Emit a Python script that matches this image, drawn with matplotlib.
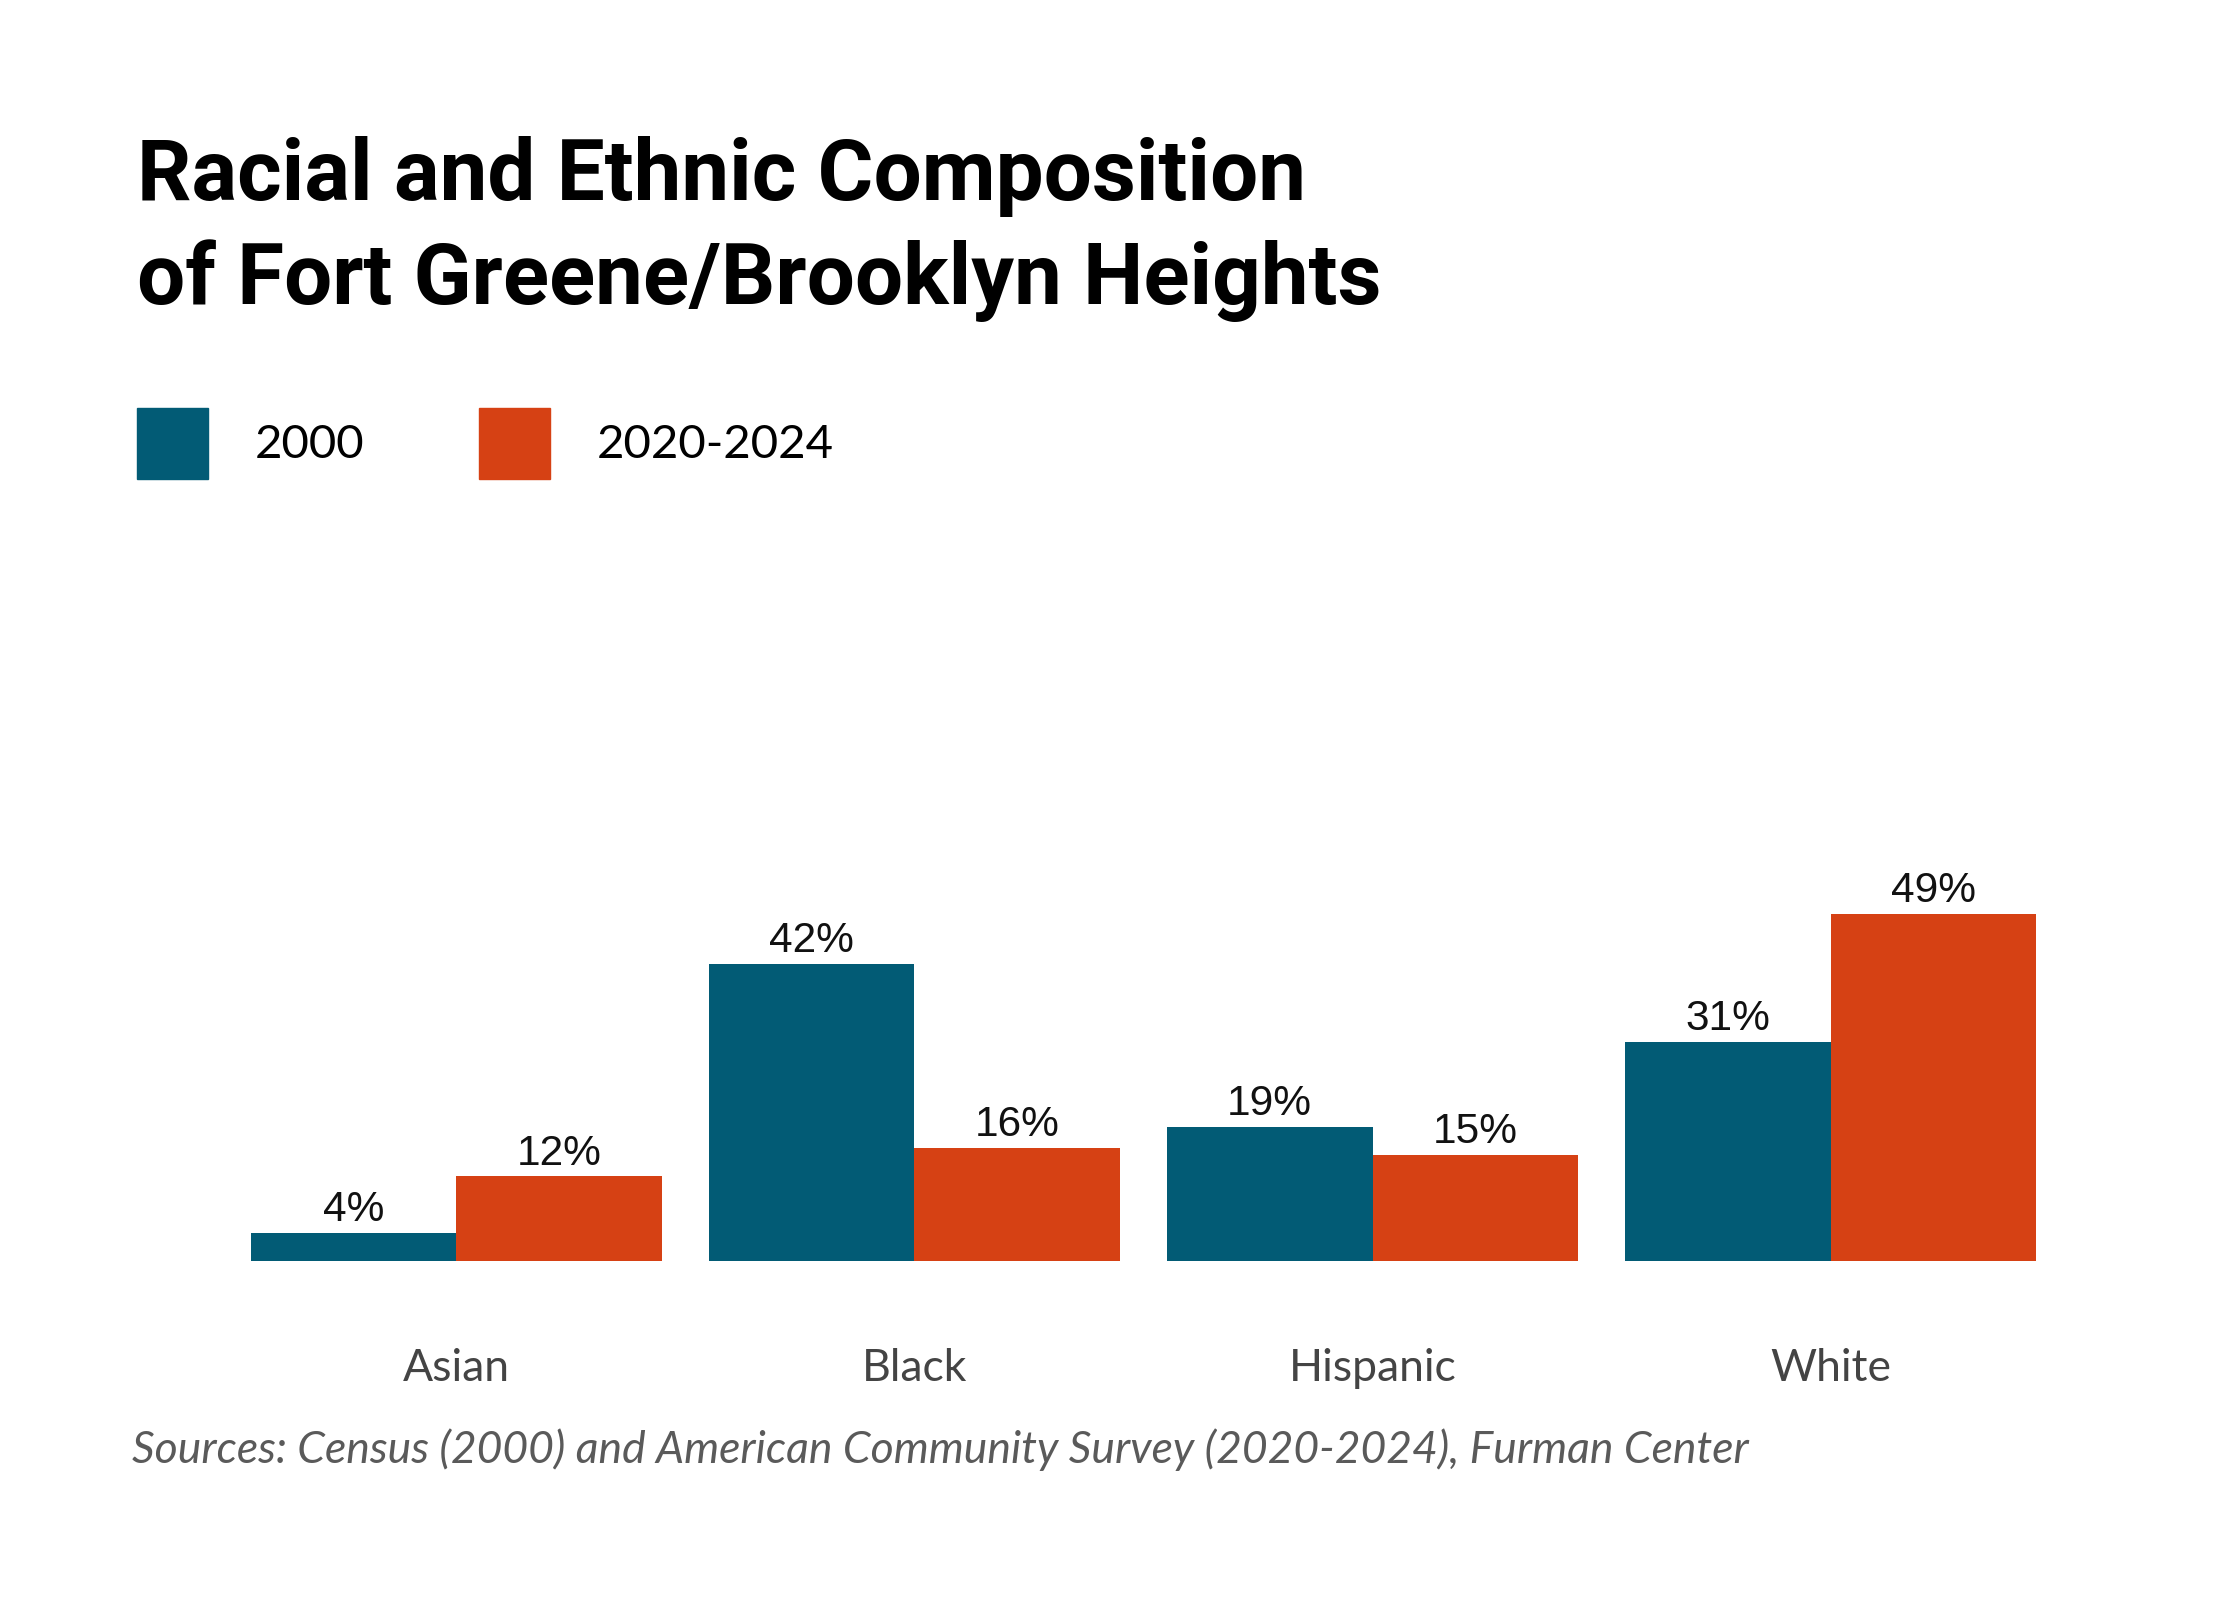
import numpy as np
import matplotlib.pyplot as plt
from matplotlib.patches import Patch

# Data
categories = ['Asian', 'Black', 'Hispanic', 'White']
series_names = ['2000', '2020-2024']
values_2000 = [4, 42, 19, 31]
values_2020 = [12, 16, 15, 49]

colors = ['#025B75', '#D64114']

fig = plt.figure(figsize=(22.4, 16), dpi=100)
ax = fig.add_axes([0.1015, 0.2116, 0.818, 0.266])

x = np.arange(len(categories))
w = 0.449
b1 = ax.bar(x - w / 2, values_2000, width=w, color=colors[0], label=series_names[0])
b2 = ax.bar(x + w / 2, values_2020, width=w, color=colors[1], label=series_names[1])

for bars, vals in [(b1, values_2000), (b2, values_2020)]:
    ax.bar_label(bars, labels=[f'{v}%' for v in vals], padding=2,
                 fontsize=30.5, family='Liberation Sans', color='#111111')

ax.set_xlim(-0.5, len(categories) - 0.5)
ax.set_ylim(0, 60)
ax.set_xticks(x)
ax.set_xticklabels(categories, fontsize=32, family='Lato', color='#444444')
ax.tick_params(axis='x', length=0, pad=62)
ax.set_yticks([])
for s in ax.spines.values():
    s.set_visible(False)

fig.text(0.0612, 0.9148, 'Racial and Ethnic Composition\nof Fort Greene/Brooklyn Heights',
         fontsize=61.5, fontweight='bold', family='Roboto', va='top', ha='left',
         linespacing=1.34, color='#000000')

handles = [Patch(color=c) for c in colors]
fig.legend(handles, series_names, loc='upper left', bbox_to_anchor=(0.0612, 0.745),
           ncol=2, frameon=False, handlelength=1.5, handleheight=1.92,
           handletextpad=1.0, columnspacing=2.42, borderpad=0, borderaxespad=0,
           prop={'family': 'Lato', 'size': 34})

fig.text(0.059, 0.094, 'Sources: Census (2000) and American Community Survey (2020-2024), Furman Center',
         fontsize=32, style='italic', family='Lato', color='#5a5a5a',
         va='center', ha='left')

fig.savefig('out.png', dpi=100, facecolor='white')
